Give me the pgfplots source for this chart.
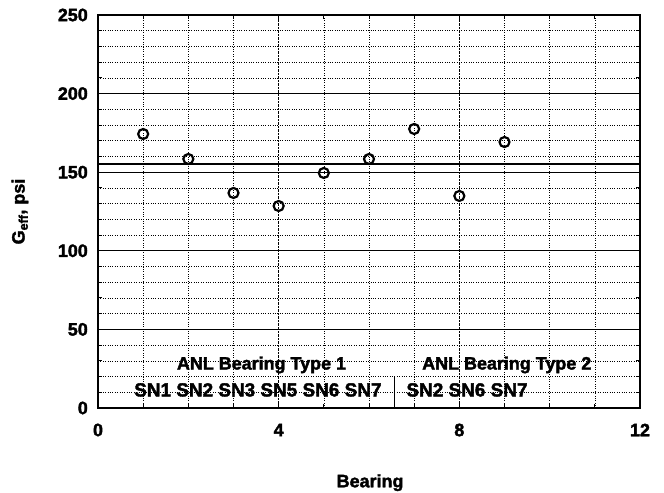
\documentclass[border=0pt]{standalone}
\usepackage{pgfplots}
\pgfplotsset{compat=1.18}
\usepackage{fontspec}
\setmainfont{Liberation Sans}[BoldFeatures={FakeBold=2}]

\begin{document}
\begin{tikzpicture}
\begin{axis}[
  name=ax,
  scale only axis, width=542bp, height=393bp,
  xmin=0, xmax=12, ymin=0, ymax=250,
  xtick={0,4,8,12}, minor xtick={1,2,3,5,6,7,9,10,11},
  ytick={0,50,...,250}, minor ytick={10,20,30,40,60,70,80,90,110,120,130,140,160,170,180,190,210,220,230,240},
  grid=both,
  major x grid style={black, densely dotted, line width=1pt},
  major y grid style={black, line width=1.2pt},
  minor grid style={black, dotted, line width=0.6pt},
  axis line style={line width=2pt},
  tick style={black, line width=1pt},
  major tick length=5bp, minor tick length=4bp,
  tick align=inside,
  ticklabel style={font=\fontsize{18}{20}\selectfont\bfseries, inner sep=0pt},
  /pgf/number format/assume math mode=true,
  xticklabel style={anchor=center, yshift=-22bp},
  yticklabel style={anchor=east, xshift=-10bp},
  xlabel={Bearing},
  xlabel style={at={(axis description cs:0.502,-0.19)}, anchor=center,
    font=\fontsize{18}{20}\selectfont\bfseries},
  ylabel={G\textsubscript{eff}, psi},
  ylabel style={at={(axis description cs:-0.144,0.5)}, anchor=center,
    font=\fontsize{18}{20}\selectfont\bfseries},
]
% mean line
\addplot[black, line width=2.2pt, no marks] coordinates {(0,155) (12,155)};
% separator between bearing types
\addplot[black, line width=1pt, no marks] coordinates {(6.57,0) (6.57,19.7)};
% measured values
\addplot[only marks, mark=o, mark size=5bp, black, mark options={line width=2.2pt}]
coordinates {
  (1,174.3) (2,158.4) (3,136.8) (4,128.5) (5,149.5)
  (6,158.4) (7,177.5) (8,134.9) (9,169.2)
};
\node[font=\fontsize{18}{20}\selectfont\bfseries] at (axis cs:3.62,27.4) {ANL Bearing Type 1};
\node[font=\fontsize{18}{20}\selectfont\bfseries] at (axis cs:9.05,27.4) {ANL Bearing Type 2};
\node[font=\fontsize{19}{20}\selectfont\bfseries] at (axis cs:3.54,11.5) {SN1 SN2 SN3 SN5 SN6 SN7};
\node[font=\fontsize{19}{20}\selectfont\bfseries] at (axis cs:8.17,11.5) {SN2 SN6 SN7};
\end{axis}
\pgfresetboundingbox
\path[use as bounding box] ([shift={(-98bp,-85bp)}]ax.south west) rectangle ([shift={(24bp,15bp)}]ax.north east);
\end{tikzpicture}
\end{document}
